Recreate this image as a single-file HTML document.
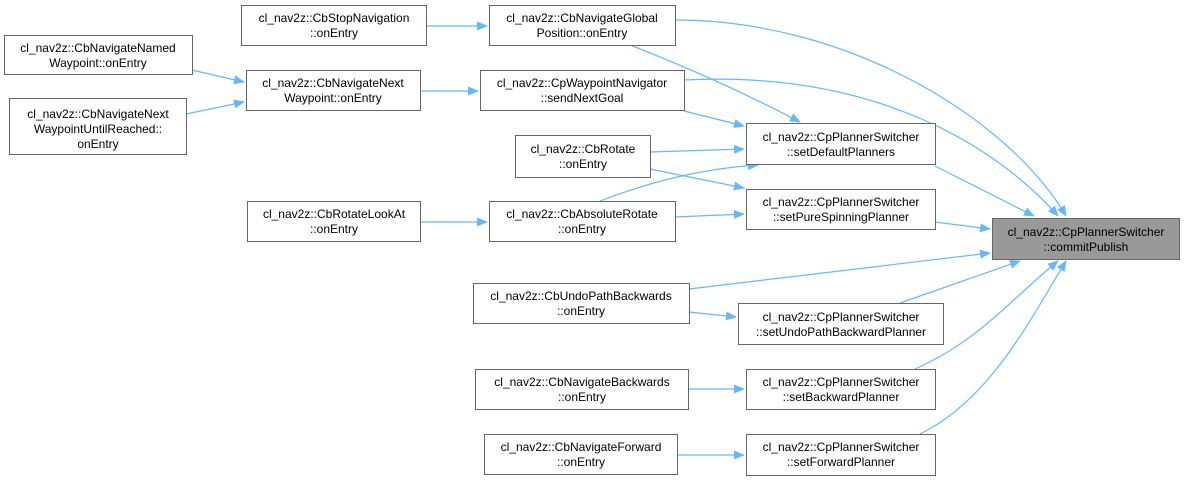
<!DOCTYPE html>
<html><head><meta charset="utf-8"><style>
html,body{margin:0;padding:0;background:#fff;}
svg{display:block;font-family:"Liberation Sans",Arial,sans-serif;font-size:12px;}
</style></head><body>
<svg width="1186" height="481" viewBox="0 0 1186 481" xmlns="http://www.w3.org/2000/svg">
<defs><marker id="a" markerWidth="11" markerHeight="9" refX="10" refY="4.5" orient="auto" markerUnits="userSpaceOnUse"><path d="M0,0 L11,4.5 L0,9 z" fill="#63b8ff"/></marker></defs>
<g fill="none" stroke="#63b8ff" stroke-width="1.2" marker-end="url(#a)">
<path d="M426,26 L487,26"/>
<path d="M192,70 L244,82"/>
<path d="M186,114 L244,102"/>
<path d="M420,91 L478,91"/>
<path d="M420,222 L487,222"/>
<path d="M675,20 C850,20 1010,120 1066,216"/>
<path d="M684,80 C880,70 1000,150 1058,216"/>
<path d="M630,45 Q720,80 800,122"/>
<path d="M684,111 L744,126"/>
<path d="M650,152 L744,149"/>
<path d="M600,201 Q680,170 758,165"/>
<path d="M650,169 L744,188"/>
<path d="M675,217 L744,214"/>
<path d="M935,166 L1034,216"/>
<path d="M935,222 L990,229"/>
<path d="M689,289 L990,253"/>
<path d="M900,303 L1020,261"/>
<path d="M689,312 L736,317"/>
<path d="M915,369 C980,340 1010,300 1058,261"/>
<path d="M688,389 L744,389"/>
<path d="M920,434 C990,400 1030,320 1066,261"/>
<path d="M677,455 L744,455"/>
</g>
<g stroke="#666" stroke-width="1" fill="#fff">
<rect x="241.5" y="5.5" width="185" height="40"/>
<rect x="489.5" y="5.5" width="186" height="40"/>
<rect x="4.5" y="35.5" width="188" height="39"/>
<rect x="246.5" y="70.5" width="174" height="40"/>
<rect x="9.5" y="98.5" width="177" height="56"/>
<rect x="480.5" y="70.5" width="204" height="40"/>
<rect x="515.5" y="135.5" width="135" height="42"/>
<rect x="746.5" y="123.5" width="189" height="41"/>
<rect x="746.5" y="189.5" width="189" height="40"/>
<rect x="992.5" y="218.5" width="187" height="41" fill="#999"/>
<rect x="247.5" y="201.5" width="173" height="40"/>
<rect x="489.5" y="201.5" width="186" height="40"/>
<rect x="473.5" y="283.5" width="216" height="40"/>
<rect x="738.5" y="303.5" width="205" height="41"/>
<rect x="475.5" y="369.5" width="213" height="40"/>
<rect x="746.5" y="369.5" width="189" height="40"/>
<rect x="484.5" y="434.5" width="193" height="40"/>
<rect x="746.5" y="434.5" width="189" height="41"/>
</g>
<g fill="#000" text-anchor="middle">
<text x="334" y="22">cl_nav2z::CbStopNavigation</text><text x="334" y="37">::onEntry</text>
<text x="582" y="22">cl_nav2z::CbNavigateGlobal</text><text x="582" y="37">Position::onEntry</text>
<text x="98" y="52">cl_nav2z::CbNavigateNamed</text><text x="98" y="67">Waypoint::onEntry</text>
<text x="333" y="87">cl_nav2z::CbNavigateNext</text><text x="333" y="102">Waypoint::onEntry</text>
<text x="98" y="118">cl_nav2z::CbNavigateNext</text><text x="98" y="133">WaypointUntilReached::</text><text x="98" y="148">onEntry</text>
<text x="582" y="87">cl_nav2z::CpWaypointNavigator</text><text x="582" y="102">::sendNextGoal</text>
<text x="583" y="153">cl_nav2z::CbRotate</text><text x="583" y="168">::onEntry</text>
<text x="841" y="141">cl_nav2z::CpPlannerSwitcher</text><text x="841" y="156">::setDefaultPlanners</text>
<text x="841" y="206">cl_nav2z::CpPlannerSwitcher</text><text x="841" y="221">::setPureSpinningPlanner</text>
<text x="1086" y="236">cl_nav2z::CpPlannerSwitcher</text><text x="1086" y="251">::commitPublish</text>
<text x="334" y="218">cl_nav2z::CbRotateLookAt</text><text x="334" y="233">::onEntry</text>
<text x="582" y="218">cl_nav2z::CbAbsoluteRotate</text><text x="582" y="233">::onEntry</text>
<text x="581" y="300">cl_nav2z::CbUndoPathBackwards</text><text x="581" y="315">::onEntry</text>
<text x="841" y="321">cl_nav2z::CpPlannerSwitcher</text><text x="841" y="336">::setUndoPathBackwardPlanner</text>
<text x="582" y="386">cl_nav2z::CbNavigateBackwards</text><text x="582" y="401">::onEntry</text>
<text x="841" y="386">cl_nav2z::CpPlannerSwitcher</text><text x="841" y="401">::setBackwardPlanner</text>
<text x="581" y="451">cl_nav2z::CbNavigateForward</text><text x="581" y="466">::onEntry</text>
<text x="841" y="451">cl_nav2z::CpPlannerSwitcher</text><text x="841" y="466">::setForwardPlanner</text>
</g>
</svg>
</body></html>
